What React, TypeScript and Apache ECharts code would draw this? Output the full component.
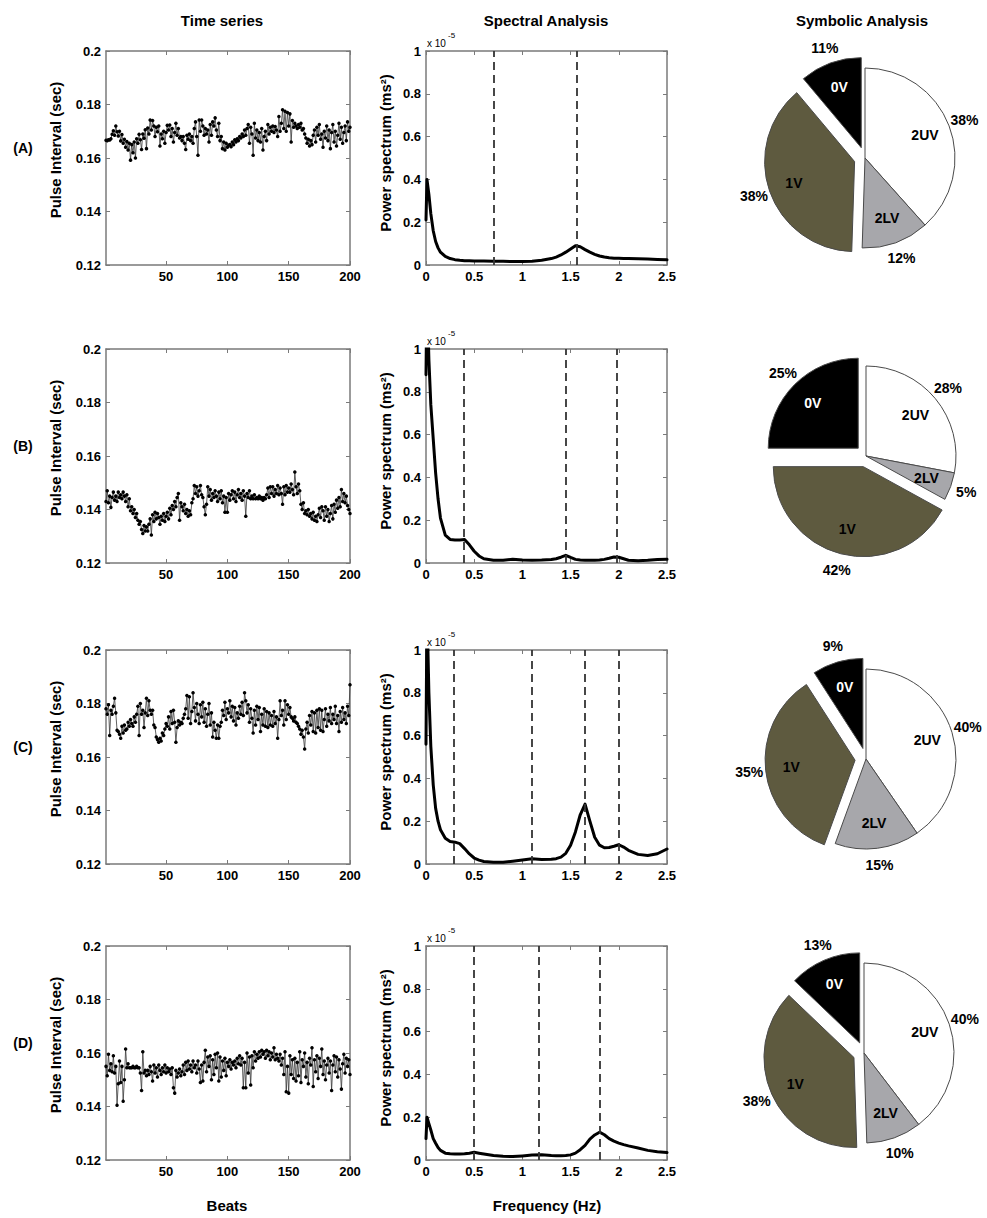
import React, { useEffect, useRef } from 'react';
import * as echarts from 'echarts';

// ---------- DATA ----------
const BEATS = Array.from({ length: 200 }, (_, i) => i + 1);

// Pulse intervals in milliseconds
const PI_A = [
  166.6, 166.5, 166.8, 166.7, 167.2, 168.9, 170.2, 168.5, 172.0, 169.8,
  168.2, 170.0, 166.4, 168.8, 165.5, 167.0, 164.0, 166.2, 163.0, 165.5,
  159.2, 165.0, 162.0, 166.0, 160.0, 167.2, 165.5, 168.9, 166.8, 163.2,
  169.0, 167.4, 170.6, 163.5, 171.2, 169.0, 174.2, 170.5, 174.0, 172.0,
  168.0, 171.5, 169.8, 172.0, 164.5, 169.0, 167.2, 170.0, 165.5, 169.5,
  172.2, 170.5, 172.3, 168.0, 171.0, 166.0, 169.5, 173.0, 168.5, 171.0,
  167.5, 168.0, 166.5, 168.0, 165.5, 163.2, 168.5, 167.0, 169.0, 166.5,
  168.0, 165.5, 171.0, 173.5, 168.0, 161.0, 174.2, 170.0, 174.2, 172.0,
  168.5, 171.0, 169.0, 170.5, 166.0, 172.5, 168.5, 173.5, 172.0, 175.0,
  170.5, 168.0, 173.0, 166.5, 168.0, 163.5, 166.0, 163.0, 165.5, 164.0,
  164.8, 165.0, 164.2, 166.0, 165.0, 166.8, 166.0, 167.2, 166.5, 168.0,
  167.5, 169.0, 168.0, 170.5, 168.5, 171.0, 172.5, 165.5, 171.5, 169.0,
  161.0, 173.0, 167.5, 170.5, 166.5, 169.5, 166.0, 171.0, 163.0, 168.0,
  170.0, 166.5, 172.5, 169.0, 171.5, 170.0, 172.0, 169.5, 171.8, 170.5,
  168.0, 175.5, 170.0, 173.0, 178.0, 171.0, 177.5, 170.0, 177.0, 172.0,
  176.5, 166.0, 174.0, 171.5, 173.0, 172.0, 171.0, 172.5, 171.5, 173.0,
  170.5, 171.0, 169.0, 167.5, 165.5, 167.0, 164.5, 166.5, 165.0, 168.5,
  170.5, 166.0, 171.5, 168.5, 172.5, 167.0, 169.0, 164.0, 170.0, 167.5,
  172.0, 166.5, 170.5, 163.5, 169.5, 172.5, 166.0, 170.0, 164.5, 168.5,
  173.0, 167.0, 171.5, 165.5, 169.5, 172.0, 166.5, 173.5, 170.0, 171.5,
];
const PI_B = [
  143.0, 147.0, 142.5, 145.0, 140.8, 144.5, 146.5, 143.5, 145.0, 143.0,
  146.5, 144.5, 145.5, 144.0, 146.5, 145.0, 143.0, 145.5, 141.0, 144.0,
  139.5, 141.0, 138.5, 140.0, 137.0, 138.5, 136.0, 134.5, 135.5, 132.5,
  131.0, 134.0, 132.0, 133.5, 132.0, 134.5, 136.5, 130.5, 138.0, 135.5,
  139.0, 136.5, 138.5, 137.0, 134.5, 137.5, 136.0, 138.5, 135.5, 137.5,
  139.0, 136.5, 140.5, 138.0, 141.5, 140.0, 143.0, 141.0, 144.5, 146.0,
  136.0, 142.5, 141.0, 139.5, 142.0, 138.5, 140.0, 137.5, 139.5, 138.0,
  142.5, 144.0, 149.0, 146.0, 148.5, 145.0, 147.0, 149.0, 145.5, 144.5,
  141.0, 138.0, 142.0, 148.5, 145.0, 147.5, 143.5, 146.0, 144.5, 147.0,
  145.0, 143.0, 146.5, 144.0, 147.0, 142.5, 145.0, 139.0, 144.5, 139.0,
  146.0, 143.5, 145.5, 147.0, 144.0, 146.5, 143.0, 145.5, 147.5, 144.5,
  146.0, 143.5, 147.0, 145.0, 137.5, 146.0, 144.5, 147.0, 144.0, 145.0,
  144.0, 145.5, 144.0, 144.5, 144.0, 145.0, 144.0, 144.5, 143.5, 144.5,
  144.0, 145.5, 148.0, 144.5, 148.5, 146.0, 148.5, 145.0, 147.5, 146.0,
  149.0, 145.5, 148.0, 146.0, 142.0, 148.5, 145.5, 149.0, 146.5, 148.0,
  146.5, 149.5, 147.5, 145.5, 154.0, 148.5, 146.0, 149.5, 147.0, 142.0,
  140.0, 142.5, 138.5, 139.5, 138.0, 140.0, 137.5, 138.5, 136.5, 139.0,
  136.0, 137.5, 135.5, 138.0, 140.5, 137.0, 141.0, 139.5, 136.0, 141.0,
  137.5, 140.0, 135.5, 138.5, 141.5, 136.5, 142.0, 139.0, 143.5, 140.5,
  144.5, 141.0, 147.5, 143.0, 146.0, 142.5, 145.0, 141.5, 140.0, 138.5,
];
const PI_C = [
  178.0, 176.0, 179.5, 168.0, 177.5, 176.0, 179.0, 182.0, 176.5, 170.0,
  169.5, 168.5, 167.0, 171.5, 169.0, 172.0, 170.0, 170.5, 173.0, 171.5,
  174.0, 172.5, 171.5, 175.0, 173.0, 176.0, 179.0, 168.0, 180.0, 176.0,
  177.5, 171.0, 176.5, 182.0, 175.5, 181.0, 177.5, 176.0, 177.5, 172.0,
  171.0, 167.5, 166.5, 165.5, 167.0, 166.0, 169.0, 168.0, 170.5, 172.5,
  171.5, 175.0, 170.5, 177.0, 172.5, 177.5, 173.0, 165.5, 171.0, 173.5,
  172.0, 173.0, 172.5, 174.5, 176.0, 178.0, 183.0, 174.5, 182.5, 172.5,
  177.0, 184.0, 178.5, 173.5, 180.0, 176.0, 172.5, 179.5, 175.0, 180.5,
  173.0, 178.0, 171.5, 176.0, 180.0, 172.0, 176.5, 167.5, 173.0, 170.0,
  167.0, 172.0, 167.0, 171.5, 173.0, 177.5, 175.5, 180.5, 174.0, 178.0,
  176.5, 181.0, 175.0, 179.0, 173.5, 178.5, 172.0, 176.5, 174.5, 179.0,
  176.0, 180.5, 175.5, 184.0, 181.0, 176.5, 179.5, 173.0, 178.0, 174.5,
  169.0, 177.5, 172.0, 179.0, 174.0, 178.5, 169.5, 176.0, 172.0, 178.0,
  171.5, 177.0, 171.0, 176.5, 172.0, 175.5, 171.5, 177.0, 172.5, 175.0,
  167.0, 174.0, 181.0, 175.5, 177.5, 172.0, 181.0, 174.0, 179.5, 176.0,
  178.5, 175.0, 174.5, 173.5, 175.0, 173.0, 172.5, 171.5, 170.5, 168.5,
  170.0, 167.5, 163.0, 170.5, 173.0, 169.0, 175.5, 172.0, 177.0, 169.5,
  176.5, 169.0, 177.5, 171.0, 178.0, 170.0, 177.5, 169.5, 174.0, 178.0,
  171.5, 176.0, 173.5, 178.5, 172.5, 176.0, 174.0, 179.0, 172.5, 175.5,
  169.5, 177.0, 173.0, 178.5, 174.0, 176.5, 172.5, 179.0, 175.5, 187.0,
];
const PI_D = [
  155.0, 151.5, 159.5, 153.5, 156.0, 153.0, 159.0, 152.5, 155.0, 140.5,
  148.5, 157.0, 149.0, 155.0, 142.0, 150.0, 161.5, 154.5, 156.0, 154.5,
  154.5, 154.5, 155.0, 154.5, 154.5, 155.0, 154.5, 154.5, 152.5, 146.0,
  160.5, 152.5, 153.5, 151.5, 153.5, 152.0, 155.0, 153.0, 149.5, 155.5,
  152.5, 154.5, 151.0, 155.5, 153.5, 152.0, 154.5, 153.0, 155.5, 152.5,
  154.5, 153.0, 154.0, 152.0, 154.5, 147.0, 145.0, 153.5, 151.0, 152.5,
  154.0, 151.5, 153.0, 155.5, 152.0, 156.5, 153.5, 157.0, 154.0, 155.5,
  153.0, 157.0, 154.5, 155.5, 152.5, 157.0, 154.0, 149.0, 155.5, 149.5,
  156.5, 161.0, 153.0, 158.5, 155.0, 159.0, 150.0, 157.5, 152.0, 159.5,
  154.5, 160.0, 149.5, 158.5, 151.0, 157.0, 153.5, 158.0, 151.5, 156.5,
  155.0, 157.5, 154.0, 156.5, 155.5, 157.0, 154.5, 158.0, 156.0, 159.0,
  155.5, 158.0, 147.0, 156.5, 147.0, 160.0, 152.5, 158.5, 148.0, 159.0,
  154.5, 160.5, 157.0, 159.5, 158.0, 160.5, 158.5, 161.0, 159.5, 160.5,
  158.0, 161.0, 159.0, 160.5, 157.5, 160.0, 158.5, 162.0, 157.5, 159.5,
  158.0, 157.0, 159.5, 155.5, 158.0, 152.0, 160.5, 145.5, 155.0, 145.0,
  159.0, 152.0, 157.5, 150.5, 158.0, 149.5, 156.5, 151.5, 160.5, 149.0,
  157.5, 155.0, 160.0, 151.0, 156.5, 148.5, 158.0, 155.5, 162.0, 147.5,
  157.5, 153.0, 159.0, 150.5, 158.0, 155.0, 161.5, 152.0, 157.0, 150.0,
  155.5, 158.0, 152.5, 157.0, 146.0, 155.5, 159.0, 153.0, 158.5, 151.0,
  157.5, 154.0, 146.5, 156.0, 159.5, 152.5, 158.0, 155.0, 157.5, 152.0,
];

// Frequencies (Hz) and power spectra (x 1e-5 ms^2)
const FREQ = [
  0, 0.01, 0.03, 0.05, 0.075, 0.1, 0.125, 0.15, 0.2, 0.25, 0.3, 0.35, 0.4, 0.45, 0.5,
  0.55, 0.6, 0.7, 0.8, 0.9, 1.0, 1.1, 1.2, 1.3, 1.35, 1.4, 1.45, 1.5, 1.55, 1.6,
  1.65, 1.7, 1.75, 1.8, 1.85, 1.9, 1.95, 2.0, 2.05, 2.1, 2.2, 2.3, 2.4, 2.5,
];
const PSD_A = [
  0.21, 0.40, 0.33, 0.24, 0.16, 0.11, 0.08, 0.06, 0.04, 0.03, 0.025, 0.022, 0.02, 0.02, 0.019,
  0.019, 0.019, 0.018, 0.017, 0.016, 0.016, 0.017, 0.022, 0.03, 0.037, 0.047, 0.06, 0.075, 0.09, 0.085,
  0.072, 0.06, 0.05, 0.042, 0.037, 0.034, 0.032, 0.031, 0.03, 0.03, 0.029, 0.028, 0.026, 0.024,
];
const PSD_B = [
  0.88, 1.3, 0.95, 0.74, 0.58, 0.42, 0.3, 0.21, 0.13, 0.11, 0.108, 0.108, 0.11, 0.085, 0.055,
  0.033, 0.02, 0.013, 0.013, 0.018, 0.014, 0.013, 0.014, 0.016, 0.02, 0.027, 0.036, 0.026, 0.017, 0.014,
  0.013, 0.013, 0.013, 0.014, 0.017, 0.022, 0.028, 0.027, 0.02, 0.013, 0.011, 0.013, 0.016, 0.017,
];
const PSD_C = [
  0.56, 1.2, 0.8, 0.55, 0.37, 0.26, 0.2, 0.16, 0.12, 0.105, 0.102, 0.095, 0.072, 0.047, 0.028,
  0.018, 0.012, 0.008, 0.008, 0.013, 0.019, 0.024, 0.021, 0.022, 0.025, 0.032, 0.05, 0.088, 0.15, 0.23,
  0.28, 0.2, 0.125, 0.088, 0.076, 0.077, 0.083, 0.09, 0.079, 0.064, 0.045, 0.04, 0.048, 0.07,
];
const PSD_D = [
  0.1, 0.2, 0.17, 0.14, 0.1, 0.078, 0.058, 0.045, 0.032, 0.029, 0.028, 0.028, 0.029, 0.032, 0.036,
  0.032, 0.028, 0.021, 0.017, 0.016, 0.019, 0.023, 0.024, 0.021, 0.02, 0.02, 0.021, 0.024, 0.032, 0.048,
  0.068, 0.098, 0.117, 0.13, 0.118, 0.1, 0.088, 0.079, 0.072, 0.066, 0.056, 0.045, 0.039, 0.035,
];
const VLINES_A = [0.7, 1.56];
const VLINES_B = [0.39, 1.45, 1.98];
const VLINES_C = [0.29, 1.1, 1.65, 2.0];
const VLINES_D = [0.5, 1.17, 1.8];

// Symbolic analysis (percent)
const PIE_NAMES = ['2UV', '2LV', '1V', '0V'];
const PIE_A = [38, 12, 38, 11];
const PIE_B = [28, 5, 42, 25];
const PIE_C = [40, 15, 35, 9];
const PIE_D = [40, 10, 38, 13];
const EXPLODED = ['1V', '0V'];

const ROW_LABELS = ['(A)', '(B)', '(C)', '(D)'];
const TITLES = ['Time series', 'Spectral Analysis', 'Symbolic Analysis'];
const TS_X_TICKS = [50, 100, 150, 200];
const TS_Y_TICKS = [0.12, 0.14, 0.16, 0.18, 0.2];
const SP_X_TICKS = [0, 0.5, 1, 1.5, 2, 2.5];
const SP_Y_TICKS = [0, 0.2, 0.4, 0.6, 0.8, 1];

// ---------- LAYOUT / STYLE ----------
const FONT = "'Liberation Sans', Arial, Helvetica, sans-serif";
const ROW_TOPS = [51, 349, 650, 946];
const PLOT_H = 214;
const TS_LEFT = 106, TS_W = 244;
const SP_LEFT = 426, SP_W = 241;
const PIE_CENTERS = [[865, 158], [866, 456], [866, 759], [864, 1053]];
const PIE_R = 90;
const AXIS_GRAY = '#7a7a7a';
const SLICE_COLORS: any = { '2UV': '#ffffff', '2LV': '#a7a7ab', '1V': '#5e5a3f', '0V': '#000000' };
const NAME_COLORS: any = { '2UV': '#000', '2LV': '#000', '1V': '#000', '0V': '#fff' };

export default function App() {
  const ref = useRef<HTMLDivElement>(null);
  useEffect(() => {
    if (!ref.current) return;
    const chart = echarts.init(ref.current, null, { renderer: 'svg' });
    const rows = [
      { ts: PI_A, psd: PSD_A, vl: VLINES_A, pie: PIE_A },
      { ts: PI_B, psd: PSD_B, vl: VLINES_B, pie: PIE_B },
      { ts: PI_C, psd: PSD_C, vl: VLINES_C, pie: PIE_C },
      { ts: PI_D, psd: PSD_D, vl: VLINES_D, pie: PIE_D },
    ];
    const grid: any[] = [];
    const xAxis: any[] = [];
    const yAxis: any[] = [];
    const series: any[] = [];
    const graphic: any[] = [];

    const labelStyle = { color: '#000', fontWeight: 'bold', fontSize: 13, fontFamily: FONT };
    const line = { show: true, onZero: false, lineStyle: { color: AXIS_GRAY, width: 1.5 } };
    const tick = (vals: number[]) => ({ show: true, inside: true, length: 4, customValues: vals, lineStyle: { color: AXIS_GRAY, width: 1 } });

    const addPlot = (left: number, width: number, top: number, xr: number[], yr: number[], xt: number[], yt: number[]) => {
      const gi = grid.length;
      grid.push({ left, top, width, height: PLOT_H, show: false, containLabel: false });
      const xi = xAxis.length;
      xAxis.push({
        type: 'value', gridIndex: gi, min: xr[0], max: xr[1], position: 'bottom',
        axisLine: line, axisTick: tick(xt), splitLine: { show: false },
        axisLabel: { ...labelStyle, margin: 5, customValues: xt, formatter: (v: number) => String(v) },
      });
      xAxis.push({
        type: 'value', gridIndex: gi, min: xr[0], max: xr[1], position: 'top',
        axisLine: line, axisTick: tick(xt), splitLine: { show: false }, axisLabel: { show: false },
      });
      const yi = yAxis.length;
      yAxis.push({
        type: 'value', gridIndex: gi, min: yr[0], max: yr[1], position: 'left',
        axisLine: line, axisTick: tick(yt), splitLine: { show: false },
        axisLabel: { ...labelStyle, margin: 5, customValues: yt, formatter: (v: number) => String(v) },
      });
      yAxis.push({
        type: 'value', gridIndex: gi, min: yr[0], max: yr[1], position: 'right',
        axisLine: line, axisTick: tick(yt), splitLine: { show: false }, axisLabel: { show: false },
      });
      return { xi, yi };
    };

    const textEl = (text: string, x: number, y: number, size: number, extra: any = {}) => ({
      type: 'text', x, y, silent: true, ...extra,
      style: { text, fontSize: size, fontWeight: 'bold', fontFamily: FONT, fill: '#000', align: 'center', verticalAlign: 'middle', ...(extra.style || {}) },
    });

    graphic.push(textEl(TITLES[0], 222, 20, 15));
    graphic.push(textEl(TITLES[1], 546, 20, 15));
    graphic.push(textEl(TITLES[2], 862, 20, 15));
    graphic.push(textEl('Beats', 227, 1205, 15));
    graphic.push(textEl('Frequency (Hz)', 547, 1205, 15));

    rows.forEach((row, r) => {
      const top = ROW_TOPS[r];
      // time series
      const a = addPlot(TS_LEFT, TS_W, top, [1, 200], [0.12, 0.2], TS_X_TICKS, TS_Y_TICKS);
      series.push({
        type: 'line', xAxisIndex: a.xi, yAxisIndex: a.yi, silent: true,
        data: BEATS.map((b, i) => [b, row.ts[i] / 1000]),
        symbol: 'circle', symbolSize: 3.5, showSymbol: true,
        itemStyle: { color: '#000' }, lineStyle: { color: '#3a3a3a', width: 0.8 },
      });
      // spectrum
      const s = addPlot(SP_LEFT, SP_W, top, [0, 2.5], [0, 1], SP_X_TICKS, SP_Y_TICKS);
      series.push({
        type: 'line', xAxisIndex: s.xi, yAxisIndex: s.yi, silent: true, clip: true,
        data: FREQ.map((f, i) => [f, row.psd[i]]),
        symbol: 'none', showSymbol: false,
        lineStyle: { color: '#000', width: 3, join: 'round', cap: 'round' },
        markLine: {
          silent: true, symbol: ['none', 'none'], label: { show: false },
          lineStyle: { color: '#333', type: [8, 5], width: 1.8 },
          data: row.vl.map((v) => ({ xAxis: v })),
        },
      });
      // pie
      const c = PIE_CENTERS[r];
      const base = {
        type: 'pie', center: c, startAngle: 90, clockwise: true, silent: true,
        selectedMode: 'multiple', selectedOffset: 11, avoidLabelOverlap: false,
        emphasis: { disabled: true }, labelLine: { show: false },
      };
      series.push({
        ...base, radius: PIE_R, label: { show: false },
        data: PIE_NAMES.map((n, i) => {
          const st = { color: SLICE_COLORS[n], borderColor: '#4a4a4a', borderWidth: 1 };
          return { name: n, value: row.pie[i], selected: EXPLODED.includes(n), itemStyle: st, select: { itemStyle: st } };
        }),
      });
      const clear = { color: 'rgba(0,0,0,0)', borderWidth: 0 };
      series.push({
        ...base, radius: [PIE_R * 0.36, PIE_R],
        label: { show: true, position: 'inside', rotate: 0, formatter: '{b}', fontSize: 14, fontWeight: 'bold', fontFamily: FONT },
        data: PIE_NAMES.map((n, i) => ({
          name: n, value: row.pie[i], selected: EXPLODED.includes(n), itemStyle: clear, select: { itemStyle: clear },
          label: { color: NAME_COLORS[n] },
        })),
      });
      series.push({
        ...base, radius: [PIE_R * 0.3, PIE_R * 2],
        label: { show: true, position: 'inside', rotate: 0, color: '#000', formatter: (p: any) => p.value + '%', fontSize: 14, fontWeight: 'bold', fontFamily: FONT },
        data: PIE_NAMES.map((n, i) => ({
          name: n, value: row.pie[i], selected: EXPLODED.includes(n), itemStyle: clear, select: { itemStyle: clear },
        })),
      });

      // texts
      graphic.push(textEl(ROW_LABELS[r], 23, top + 97, 14));
      graphic.push(textEl('Pulse Interval (sec)', 55, top + 99, 15, { rotation: Math.PI / 2 }));
      graphic.push(textEl('Power spectrum (ms²)', 385, top + 102, 15, { rotation: Math.PI / 2 }));
      graphic.push({
        type: 'text', x: 427, y: top - 8, silent: true,
        style: { text: 'x 10', fontSize: 10, fontFamily: FONT, fill: '#000', align: 'left', verticalAlign: 'middle' },
      });
      graphic.push({
        type: 'text', x: 448, y: top - 16, silent: true,
        style: { text: '-5', fontSize: 8, fontFamily: FONT, fill: '#000', align: 'left', verticalAlign: 'middle' },
      });
    });

    chart.setOption({
      animation: false,
      backgroundColor: '#ffffff',
      grid, xAxis, yAxis, series, graphic,
    });
    return () => chart.dispose();
  }, []);
  return <div ref={ref} style={{ position: 'absolute', left: 0, top: 0, width: 987, height: 1218 }} />;
}
